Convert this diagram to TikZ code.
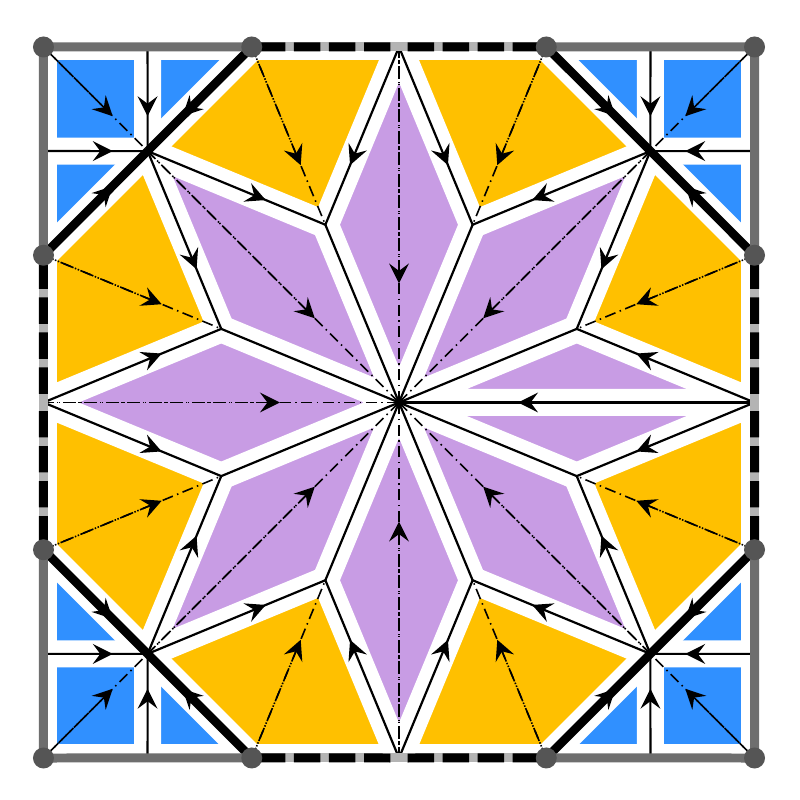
\documentclass[tikz,border=0pt]{standalone}
\usepackage{tikz}
\usepackage{color}
\usetikzlibrary{arrows.meta,decorations.markings,calc}

\definecolor{cellyellow}{RGB}{255,192,0}
\definecolor{cellblue}{RGB}{48,144,255}
\definecolor{cellpurple}{RGB}{200,156,228}
\definecolor{rimgray}{RGB}{110,110,110}
\definecolor{gapgray}{RGB}{180,180,180}
\definecolor{dotgray}{RGB}{85,85,85}

\begin{document}
\begin{tikzpicture}[
  >={Stealth[length=2mm,width=2mm,inset=0.75mm,line width=0pt]},
  band/.style={white,line width=0.27cm,line cap=round,line join=round},
  edge/.style={black,line width=0.022cm},
  rim/.style={black,line width=0.085cm},
  flow/.style={postaction={decorate},decoration={markings,mark=at position 0.665 with {\arrow{>}}}},
  dual/.style={black,line width=0.016cm,dash pattern=on 0.11cm off 0.045cm on 0.015cm off 0.045cm},
  lead/.style={dual,<-},
  side/.style={rimgray,line width=0.09cm},
  gapside/.style={gapgray,line width=0.09cm},
  dashside/.style={black,line width=0.09cm,dash pattern=on 0.263cm off 0.087cm,dash phase=0.263cm},
  dot/.style={circle,fill=dotgray,inner sep=0pt,minimum size=0.21cm}]
\useasboundingbox (-3.99,-3.975) rectangle (4.01,4.025);

\coordinate (c) at (0,0);

\coordinate (P0) at (0:3.555);
\coordinate (P45) at (45:3.555);
\coordinate (P90) at (90:3.555);
\coordinate (P135) at (135:3.555);
\coordinate (P180) at (180:3.555);
\coordinate (P225) at (225:3.555);
\coordinate (P270) at (270:3.555);
\coordinate (P315) at (315:3.555);

\coordinate (Q22) at (22.5:1.924);
\coordinate (Q67) at (67.5:1.924);
\coordinate (Q112) at (112.5:1.924);
\coordinate (Q157) at (157.5:1.924);
\coordinate (Q202) at (202.5:1.924);
\coordinate (Q247) at (247.5:1.924);
\coordinate (Q292) at (292.5:1.924);
\coordinate (Q337) at (337.5:1.924);

\coordinate (V22) at (22.5:3.848);
\coordinate (V67) at (67.5:3.848);
\coordinate (V112) at (112.5:3.848);
\coordinate (V157) at (157.5:3.848);
\coordinate (V202) at (202.5:3.848);
\coordinate (V247) at (247.5:3.848);
\coordinate (V292) at (292.5:3.848);
\coordinate (V337) at (337.5:3.848);

\coordinate (C45) at (3.555,3.555);
\coordinate (C135) at (-3.555,3.555);
\coordinate (C225) at (-3.555,-3.555);
\coordinate (C315) at (3.555,-3.555);

\coordinate (N45) at (2.514,3.555);
\coordinate (E45) at (3.555,2.514);
\coordinate (N135) at (-2.514,3.555);
\coordinate (W135) at (-3.555,2.514);
\coordinate (S225) at (-2.514,-3.555);
\coordinate (W225) at (-3.555,-2.514);
\coordinate (S315) at (2.514,-3.555);
\coordinate (E315) at (3.555,-2.514);

\fill[cellyellow] (V22)--(P0)--(Q22)--(P45)--cycle;
\fill[cellyellow] (V67)--(P45)--(Q67)--(P90)--cycle;
\fill[cellyellow] (V112)--(P90)--(Q112)--(P135)--cycle;
\fill[cellyellow] (V157)--(P135)--(Q157)--(P180)--cycle;
\fill[cellyellow] (V202)--(P180)--(Q202)--(P225)--cycle;
\fill[cellyellow] (V247)--(P225)--(Q247)--(P270)--cycle;
\fill[cellyellow] (V292)--(P270)--(Q292)--(P315)--cycle;
\fill[cellyellow] (V337)--(P315)--(Q337)--(P0)--cycle;

\fill[cellpurple] (c)--(Q337)--(P0)--(Q22)--cycle;
\fill[cellpurple] (c)--(Q22)--(P45)--(Q67)--cycle;
\fill[cellpurple] (c)--(Q67)--(P90)--(Q112)--cycle;
\fill[cellpurple] (c)--(Q112)--(P135)--(Q157)--cycle;
\fill[cellpurple] (c)--(Q157)--(P180)--(Q202)--cycle;
\fill[cellpurple] (c)--(Q202)--(P225)--(Q247)--cycle;
\fill[cellpurple] (c)--(Q247)--(P270)--(Q292)--cycle;
\fill[cellpurple] (c)--(Q292)--(P315)--(Q337)--cycle;

\fill[cellblue] (C45)--(N45)--(P45)--(E45)--cycle;
\fill[cellblue] (N45)--(V67)--(P45)--cycle;
\fill[cellblue] (E45)--(P45)--(V22)--cycle;
\fill[cellblue] (C135)--(N135)--(P135)--(W135)--cycle;
\fill[cellblue] (N135)--(V112)--(P135)--cycle;
\fill[cellblue] (W135)--(P135)--(V157)--cycle;
\fill[cellblue] (C225)--(S225)--(P225)--(W225)--cycle;
\fill[cellblue] (S225)--(V247)--(P225)--cycle;
\fill[cellblue] (W225)--(P225)--(V202)--cycle;
\fill[cellblue] (C315)--(S315)--(P315)--(E315)--cycle;
\fill[cellblue] (S315)--(V292)--(P315)--cycle;
\fill[cellblue] (E315)--(P315)--(V337)--cycle;

\draw[band] (C45)--(C135)--(C225)--(C315)--cycle;
\draw[band] (P0)--(Q22)--(P45)--(Q67)--(P90)--(Q112)--(P135)--(Q157)--(P180)--(Q202)--(P225)--(Q247)--(P270)--(Q292)--(P315)--(Q337)--cycle;
\draw[band] (c)--(Q22) (c)--(Q67) (c)--(Q112) (c)--(Q157) (c)--(Q202) (c)--(Q247) (c)--(Q292) (c)--(Q337) (c)--(P0);
\draw[band] (N45)--(P45)--(E45) (N135)--(P135)--(W135) (S225)--(P225)--(W225) (S315)--(P315)--(E315);
\draw[band] (V22)--(V67) (V112)--(V157) (V202)--(V247) (V292)--(V337);

\draw[dual] (C45)--(P45);
\draw[dual] (C135)--(P135);
\draw[dual] (C225)--(P225);
\draw[dual] (C315)--(P315);
\draw[lead] ($(C45)!0.665!(P45)$)--(C45);
\draw[lead] ($(C135)!0.665!(P135)$)--(C135);
\draw[lead] ($(C225)!0.665!(P225)$)--(C225);
\draw[lead] ($(C315)!0.665!(P315)$)--(C315);

\draw[dual] (V22)--(Q22);
\draw[dual] (V67)--(Q67);
\draw[dual] (V112)--(Q112);
\draw[dual] (V157)--(Q157);
\draw[dual] (V202)--(Q202);
\draw[dual] (V247)--(Q247);
\draw[dual] (V292)--(Q292);
\draw[dual] (V337)--(Q337);
\draw[lead] ($(V22)!0.665!(Q22)$)--(V22);
\draw[lead] ($(V67)!0.665!(Q67)$)--(V67);
\draw[lead] ($(V112)!0.665!(Q112)$)--(V112);
\draw[lead] ($(V157)!0.665!(Q157)$)--(V157);
\draw[lead] ($(V202)!0.665!(Q202)$)--(V202);
\draw[lead] ($(V247)!0.665!(Q247)$)--(V247);
\draw[lead] ($(V292)!0.665!(Q292)$)--(V292);
\draw[lead] ($(V337)!0.665!(Q337)$)--(V337);

\draw[dual] (P45)--(c);
\draw[dual] (P90)--(c);
\draw[dual] (P135)--(c);
\draw[dual] (P180)--(c);
\draw[dual] (P225)--(c);
\draw[dual] (P270)--(c);
\draw[dual] (P315)--(c);
\draw[lead] ($(P45)!0.665!(c)$)--(P45);
\draw[lead] ($(P90)!0.665!(c)$)--(P90);
\draw[lead] ($(P135)!0.665!(c)$)--(P135);
\draw[lead] ($(P180)!0.665!(c)$)--(P180);
\draw[lead] ($(P225)!0.665!(c)$)--(P225);
\draw[lead] ($(P270)!0.665!(c)$)--(P270);
\draw[lead] ($(P315)!0.665!(c)$)--(P315);

\draw[edge] (c)--(Q22) (c)--(Q67) (c)--(Q112) (c)--(Q157) (c)--(Q202) (c)--(Q247) (c)--(Q292) (c)--(Q337);
\draw[edge,flow] (P0)--(c);

\draw[edge,flow] (P0)--(Q22);
\draw[edge,flow] (P0)--(Q337);
\draw[edge,flow] (P45)--(Q22);
\draw[edge,flow] (P45)--(Q67);
\draw[edge,flow] (P90)--(Q67);
\draw[edge,flow] (P90)--(Q112);
\draw[edge,flow] (P135)--(Q112);
\draw[edge,flow] (P135)--(Q157);
\draw[edge,flow] (P180)--(Q157);
\draw[edge,flow] (P180)--(Q202);
\draw[edge,flow] (P225)--(Q202);
\draw[edge,flow] (P225)--(Q247);
\draw[edge,flow] (P270)--(Q247);
\draw[edge,flow] (P270)--(Q292);
\draw[edge,flow] (P315)--(Q292);
\draw[edge,flow] (P315)--(Q337);

\draw[edge,flow] (N45)--(P45);
\draw[edge,flow] (E45)--(P45);
\draw[edge,flow] (N135)--(P135);
\draw[edge,flow] (W135)--(P135);
\draw[edge,flow] (S225)--(P225);
\draw[edge,flow] (W225)--(P225);
\draw[edge,flow] (S315)--(P315);
\draw[edge,flow] (E315)--(P315);

\draw[rim,flow] (V67)--(P45);
\draw[rim,flow] (V22)--(P45);
\draw[rim,flow] (V112)--(P135);
\draw[rim,flow] (V157)--(P135);
\draw[rim,flow] (V202)--(P225);
\draw[rim,flow] (V247)--(P225);
\draw[rim,flow] (V292)--(P315);
\draw[rim,flow] (V337)--(P315);

\draw[side] (V67)--(C45)--(V22);
\draw[side] (V112)--(C135)--(V157);
\draw[side] (V202)--(C225)--(V247);
\draw[side] (V292)--(C315)--(V337);
\draw[gapside] (V67)--(V112) (V157)--(V202) (V247)--(V292) (V337)--(V22);
\draw[dashside] (P90)--(V67);
\draw[dashside] (P90)--(V112);
\draw[dashside] (P180)--(V157);
\draw[dashside] (P180)--(V202);
\draw[dashside] (P270)--(V247);
\draw[dashside] (P270)--(V292);
\draw[dashside] (P0)--(V337);
\draw[dashside] (P0)--(V22);

\node[dot] (dotC45) at (C45) {};
\node[dot] (dotC135) at (C135) {};
\node[dot] (dotC225) at (C225) {};
\node[dot] (dotC315) at (C315) {};
\node[dot] (dotV22) at (V22) {};
\node[dot] (dotV67) at (V67) {};
\node[dot] (dotV112) at (V112) {};
\node[dot] (dotV157) at (V157) {};
\node[dot] (dotV202) at (V202) {};
\node[dot] (dotV247) at (V247) {};
\node[dot] (dotV292) at (V292) {};
\node[dot] (dotV337) at (V337) {};
\end{tikzpicture}
\end{document}
